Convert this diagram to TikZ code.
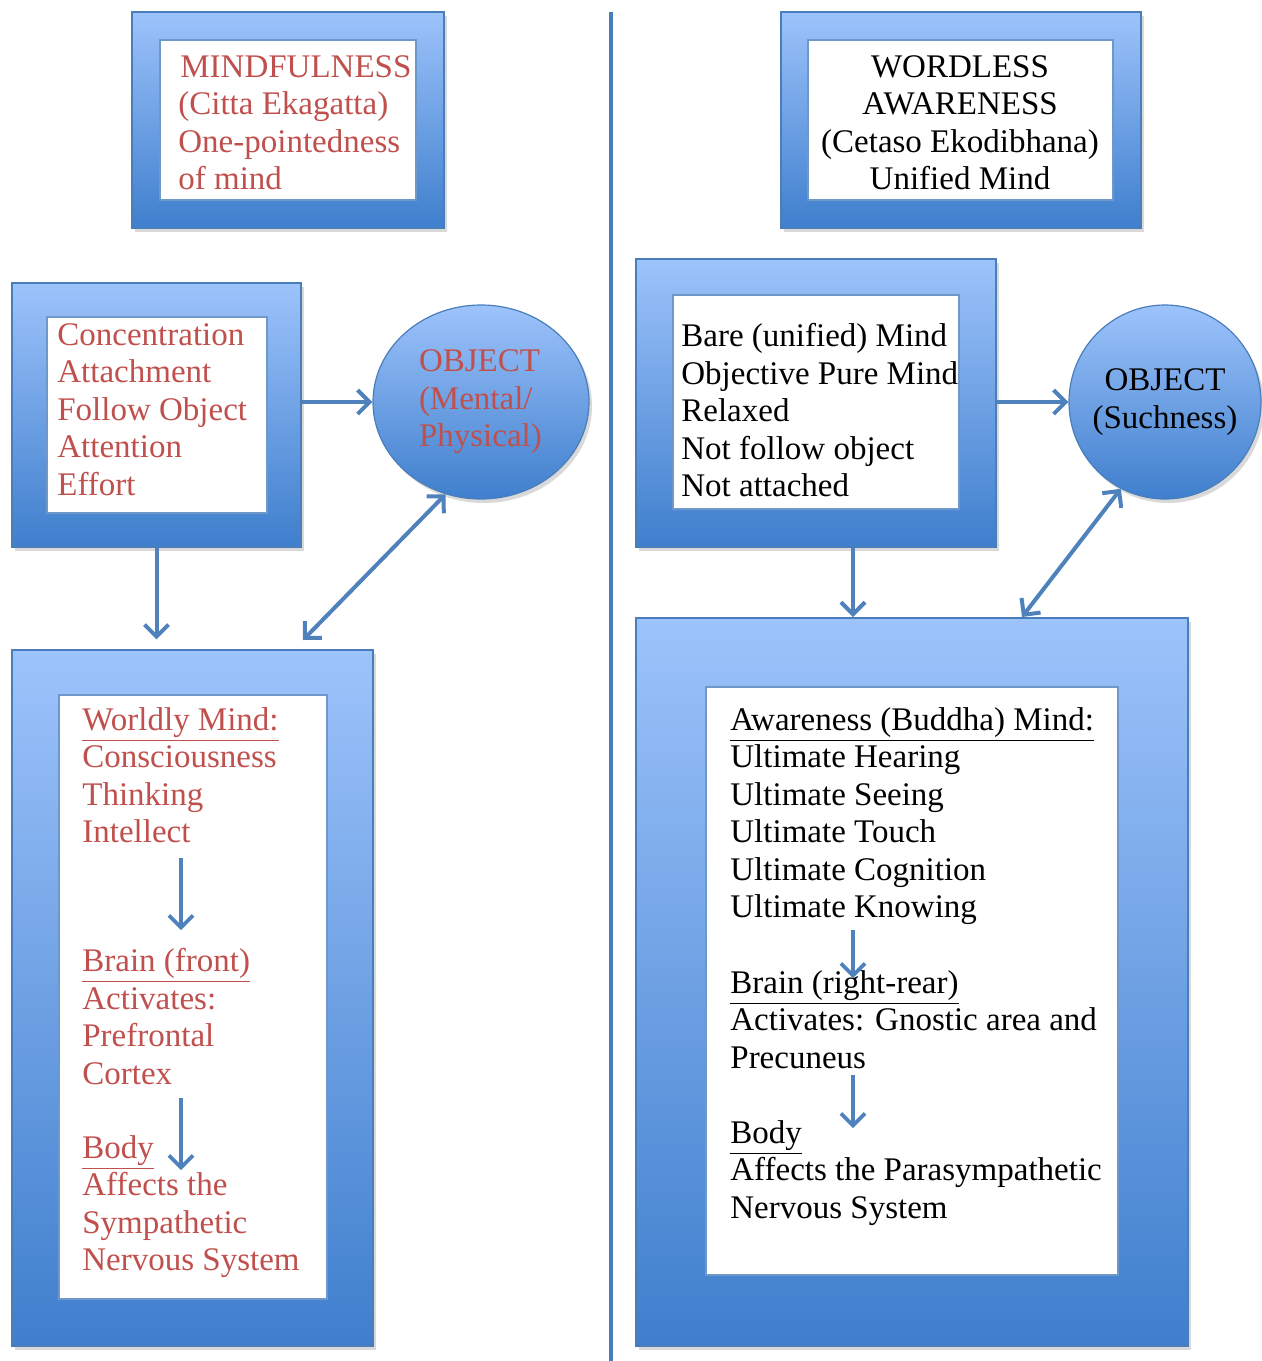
\documentclass[tikz,border=0pt]{standalone}
\usepackage{fontspec}
\setmainfont{Liberation Serif}
\usetikzlibrary{arrows.meta,fit,shadows,shapes.geometric}
\definecolor{framehi}{HTML}{9DC3FB}
\definecolor{framelo}{HTML}{3F7FCD}
\definecolor{frameline}{HTML}{4A7EBB}
\definecolor{arrowblue}{HTML}{4F81BD}
\definecolor{textred}{HTML}{C0504D}

\begin{document}
\begin{tikzpicture}[x=0.5pt,y=-0.5pt,>={Straight Barb[length=6pt,width=12pt]},
	frame/.style={draw=frameline,line width=0.6pt,top color=framehi,bottom color=framelo,inner sep=0pt,
		drop shadow={opacity=0.3,shadow xshift=1.5pt,shadow yshift=-2pt}},
	pane/.style={draw=frameline!80,line width=0.6pt,fill=white,inner sep=0pt},
	blob/.style={frame,ellipse,align=center,font=\fontsize{16.5}{18.75}\selectfont},
	txt/.style={anchor=north west,align=left,inner sep=0pt,font=\fontsize{16.5}{18.75}\selectfont},
	link/.style={arrowblue,line width=2pt}]
\useasboundingbox (0,0) rectangle (1262,1361);
\draw[frameline,line width=2pt] (611,12) -- (611,1361);

\foreach \n/\xa/\ya/\xb/\yb in {mindf/132/12/444/228,wtitle/781/12/1141/228,conc/12/283/301/547,
	bare/636/259/996/547,worldly/12/650/373/1346,aware/636/618/1188/1346}{
	\node[frame,fit={(\xa,\ya) (\xb,\yb)}] (\n) {};
}
\foreach \n/\xa/\ya/\xb/\yb in {mindf/160/40/416/200,wtitle/808/40/1113/200,conc/47/317/267/513,
	bare/673/295/959/509,worldly/59/695/327/1299,aware/706/687/1118/1275}{
	\node[pane,fit={(\xa,\ya) (\xb,\yb)}] (\n-in) {};
}

\node[blob,text=textred,minimum width=108pt,minimum height=97pt] (objl) at (481,402)
	{\parbox{62pt}{\raggedright OBJECT\\(Mental/\\Physical)}};
\node[blob,inner xsep=-8pt,minimum width=96pt,minimum height=97pt] (objr) at (1165,402) {OBJECT\\(Suchness)};

\node[txt,text=textred] (mindf-t) at (178,55) {\hspace*{1pt}MINDFULNESS\\(Citta Ekagatta)\\One-pointedness\\of mind};
\node[txt,anchor=north,align=center] (wtitle-t) at (960,55) {WORDLESS\\AWARENESS\\(Cetaso Ekodibhana)\\Unified Mind};
\node[txt,text=textred] (conc-t) at (57,323) {Concentration\\Attachment\\Follow Object\\Attention\\Effort};
\node[txt] (bare-t) at (681,323) {Bare (unified) Mind\\Objective Pure Mind\\Relaxed\\Not follow object\\Not attached};

\node[txt,text=textred] (wmind) at (82,707) {\underline{Worldly Mind:}\\Consciousness\\Thinking\\Intellect};
\node[txt,text=textred] (wbrain) at (82,948) {\underline{Brain (front)}\\Activates:\\Prefrontal\\Cortex};
\node[txt,text=textred] (wbody) at (82,1135) {\underline{Body}\\Affects the\\Sympathetic\\Nervous System};

\node[txt] (amind) at (730,707) {\underline{Awareness (Buddha) Mind:}\\Ultimate Hearing\\Ultimate Seeing\\Ultimate Touch\\Ultimate Cognition\\Ultimate Knowing};
\node[txt] (abrain) at (730,970) {\underline{Brain (right-rear)}\\Activates: Gnostic area and\\Precuneus};
\node[txt] (abody) at (730,1120) {\underline{Body}\\Affects the Parasympathetic\\Nervous System};

\coordinate (dl) at (303,640);
\coordinate (dr) at (853,617);
\coordinate (ur) at (1022,617);
\draw[link,->] (conc.east |- objl) -- (objl.west);
\draw[link,->] (conc.south) -- ([yshift=5pt]conc.south |- worldly.north);
\draw[link,<->] (dl) -- (objl.249);
\draw[link,->] (bare.east |- objr) -- (objr.west);
\draw[link,->] (bare.south -| dr) -- (dr);
\draw[link,<->] (ur) -- (objr.243);

\foreach \c/\x/\ya/\yb in {w1/181/858/930,w2/181/1098/1170,a1/853/930/978,a2/853/1075/1128}{
	\coordinate (\c-s) at (\x,\ya);
	\coordinate (\c-e) at (\x,\yb);
	\draw[link,line width=1.8pt,->] (\c-s) -- (\c-e);
}
\end{tikzpicture}
\end{document}
